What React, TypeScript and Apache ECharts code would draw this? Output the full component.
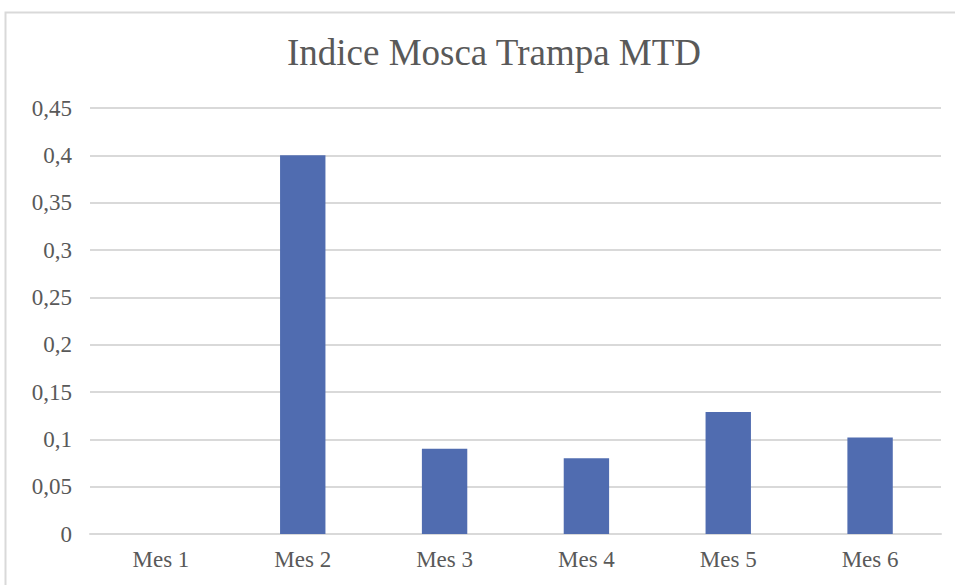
import React, { useEffect, useRef } from "react";
import * as echarts from "echarts";

const categories = ["Mes 1", "Mes 2", "Mes 3", "Mes 4", "Mes 5", "Mes 6"];
const values = [0, 0.4, 0.09, 0.08, 0.129, 0.102];
const titleText = "Indice Mosca Trampa MTD";

export default function App() {
  const ref = useRef<HTMLDivElement>(null);
  useEffect(() => {
    const chart = echarts.init(ref.current!, null, { renderer: "svg" });
    const font = "'Liberation Serif', 'Times New Roman', serif";
    chart.setOption({
      animation: false,
      backgroundColor: "#ffffff",
      textStyle: { fontFamily: font },
      title: {
        text: titleText,
        left: 489,
        top: 29,
        textAlign: "center",
        textStyle: { fontFamily: font, fontSize: 37, fontWeight: "normal", color: "#595959" },
      },
      graphic: [
        {
          type: "rect",
          shape: { x: 5.5, y: 12.5, width: 1000, height: 700 },
          style: { fill: "none", stroke: "#d9d9d9", lineWidth: 2 },
          silent: true,
          z: -1,
        },
      ],
      grid: { left: 90, right: 14, top: 108, bottom: 51 },
      xAxis: {
        type: "category",
        data: categories,
        axisLine: { show: true, lineStyle: { color: "#d9d9d9", width: 2 } },
        axisTick: { show: false },
        axisLabel: { fontFamily: font, fontSize: 23, color: "#595959", margin: 14 },
      },
      yAxis: {
        type: "value",
        min: 0,
        max: 0.45,
        interval: 0.05,
        axisLine: { show: false },
        axisTick: { show: false },
        splitLine: { lineStyle: { color: "#d9d9d9", width: 2 } },
        axisLabel: {
          fontFamily: font,
          fontSize: 23,
          color: "#595959",
          margin: 18,
          formatter: (v: number) => String(Math.round(v * 100) / 100).replace(".", ","),
        },
      },
      series: [
        {
          type: "bar",
          data: values,
          barWidth: "32%",
          itemStyle: { color: "#506CB0" },
        },
      ],
    });
    return () => chart.dispose();
  }, []);
  return (
    <div
      ref={ref}
      style={{ position: "fixed", left: 0, top: 0, width: 955, height: 585 }}
    />
  );
}
